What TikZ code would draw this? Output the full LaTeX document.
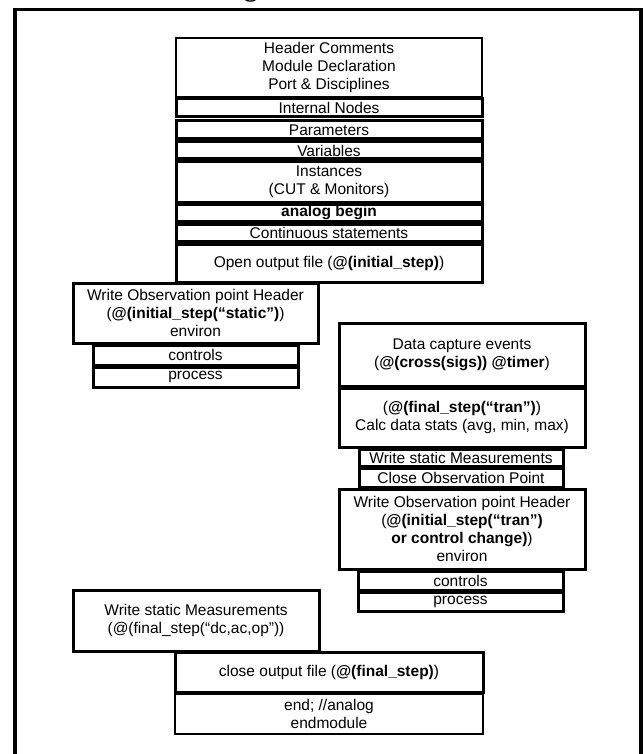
\documentclass[tikz,border=0pt]{standalone}
\usepackage{fontspec}
\setmainfont{Liberation Sans}
\newfontfamily\titlefont{Liberation Serif}
\begin{document}
\begin{tikzpicture}[x=1pt,y=-1pt,
  blk/.style={draw=black, line width=3pt, fill=white, inner sep=0pt, align=center,
    font=\fontsize{15.5}{18}\selectfont},
  thinblk/.style={blk, line width=1.5pt},
  frame/.style={draw=black, line width=3.5pt}]
\useasboundingbox (0,0) rectangle (643,754);
\fill[white] (0,0) rectangle (643,754);
% partially visible title
\node[anchor=base east, inner sep=0pt, font=\titlefont\bfseries\fontsize{26}{30}\selectfont] (title) at (272,-3.5) {Module design};
% outer frame
\coordinate (fbl) at (15,756);
\coordinate (ftl) at (15,9.5);
\coordinate (ftr) at (641,9.5);
\coordinate (fbr) at (641,756);
\draw[frame] (fbl) -- (ftl) -- (ftr) -- (fbr);

% top stack
\node[thinblk, minimum width=306pt, minimum height=59pt] (hdr) at (329,67.5) {Header Comments\\Module Declaration\\Port \& Disciplines};
\node[blk, minimum width=306pt, minimum height=18pt] (intn) at (329,108) {Internal Nodes};
\node[blk, minimum width=306pt, minimum height=18pt] (par) at (329,130) {Parameters};
\node[blk, minimum width=306pt, minimum height=17pt] (var) at (329,150.5) {Variables};
\node[blk, minimum width=306pt, minimum height=40pt] (inst) at (329,182) {Instances\\(CUT \& Monitors)};
\node[blk, minimum width=306pt, minimum height=17pt] (anb) at (329,212.5) {\textbf{analog begin}};
\node[blk, minimum width=306pt, minimum height=17pt] (cont) at (329,232.5) {Continuous statements};
\node[blk, minimum width=306pt, minimum height=38pt] (openf) at (329,263) {Open output file (\textbf{@(initial\_step)})};

% left group
\node[blk, minimum width=245pt, minimum height=60pt] (wobsa) at (195.5,313) {Write Observation point Header\\(\textbf{@(initial\_step(“static”)})\\environ};
\node[blk, minimum width=205pt, minimum height=20pt] (ctrla) at (195.5,355) {controls};
\node[blk, minimum width=205pt, minimum height=20pt] (proca) at (195.5,377) {process};

% right group
\node[blk, minimum width=246pt, minimum height=63pt] (data) at (462,354.5) {Data capture events\\(\textbf{@(cross(sigs)) @timer})};
\node[blk, minimum width=246pt, minimum height=59pt] (fin) at (462,417.5) {(\textbf{@(final\_step(“tran”)})\\Calc data stats (avg, min, max)};
\node[blk, minimum width=204pt, minimum height=17pt] (wsm) at (461,457.5) {Write static Measurements};
\node[blk, minimum width=204pt, minimum height=19pt] (cop) at (461,477.5) {Close Observation Point};
\node[blk, minimum width=246pt, minimum height=80pt] (wobsb) at (462,529) {Write Observation point Header\\(\textbf{@(initial\_step(“tran”)}\\\textbf{or control change)})\\environ};
\node[blk, minimum width=205pt, minimum height=19pt] (ctrlb) at (460.5,580.5) {controls};
\node[blk, minimum width=205pt, minimum height=19pt] (procb) at (460.5,601.5) {process};

% bottom
\node[blk, minimum width=246pt, minimum height=61pt] (wsmb) at (196,620.5) {Write static Measurements\\(@(final\_step(“dc,ac,op”))};
\node[blk, minimum width=308pt, minimum height=40pt] (cof) at (329,672) {close output file (\textbf{@(final\_step)})};
\node[thinblk, minimum width=308pt, minimum height=40pt] (endm) at (329,714) {end; //analog\\endmodule};
\end{tikzpicture}
\end{document}
